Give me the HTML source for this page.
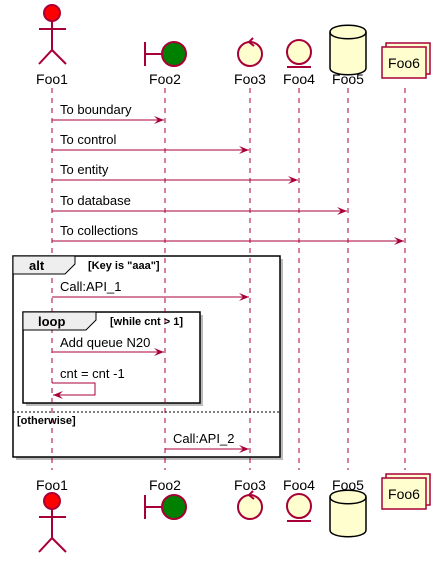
<!DOCTYPE html>
<html><head><meta charset="utf-8"><style>body{margin:0;background:#fff}svg{display:block}</style></head><body>
<svg width="439" height="561" xmlns="http://www.w3.org/2000/svg" font-family="Liberation Sans, sans-serif">
<defs><marker id="a" markerWidth="12" markerHeight="10" refX="10" refY="4" orient="auto" markerUnits="userSpaceOnUse"><path d="M0,0 L10,4 L0,8 L4,4 Z" fill="#A80036"/></marker></defs>
<!-- alt/loop boxes first -->
<rect x="16" y="259" width="267" height="201" fill="#bbb"/>
<rect x="13" y="256" width="267" height="201" fill="#fff" stroke="#000" stroke-width="1.5"/>
<rect x="26" y="315" width="177" height="91" fill="#bbb"/>
<rect x="23" y="312" width="177" height="91" fill="#fff" stroke="#000" stroke-width="1.5"/>
<g stroke="#A80036" stroke-dasharray="5,5" stroke-width="1">
<line x1="52" y1="88" x2="52" y2="470"/><line x1="165" y1="88" x2="165" y2="470"/><line x1="250" y1="88" x2="250" y2="470"/><line x1="299" y1="88" x2="299" y2="470"/><line x1="348" y1="88" x2="348" y2="470"/><line x1="405" y1="88" x2="405" y2="470"/>
</g>
<path d="M13,256 L75,256 L75,264 L65,274 L13,274 Z" fill="#EEE" stroke="#000" stroke-width="1"/>
<text x="29" y="270" font-size="13" font-weight="bold">alt</text>
<text x="88" y="269" font-size="11" font-weight="bold">[Key is "aaa"]</text>
<path d="M23,312 L96,312 L96,320 L86,330 L23,330 Z" fill="#EEE" stroke="#000" stroke-width="1"/>
<text x="38" y="326" font-size="13" font-weight="bold">loop</text>
<text x="110" y="325" font-size="11" font-weight="bold">[while cnt &gt; 1]</text>
<line x1="13" y1="412" x2="280" y2="412" stroke="#000" stroke-dasharray="2,2"/>
<text x="17" y="424" font-size="11" font-weight="bold">[otherwise]</text>
<g font-size="14" fill="#000" text-anchor="middle">
<text x="52" y="84">Foo1</text><text x="165" y="84">Foo2</text><text x="250" y="84">Foo3</text><text x="299" y="84">Foo4</text><text x="348" y="84">Foo5</text>
<text x="52" y="490">Foo1</text><text x="165" y="490">Foo2</text><text x="250" y="490">Foo3</text><text x="299" y="490">Foo4</text><text x="348" y="490">Foo5</text>
</g>
<g stroke="#A80036" stroke-width="2" fill="none">
<g><circle cx="52" cy="13" r="8" fill="#f00"/><line x1="52" y1="21" x2="52" y2="50"/><line x1="39" y1="29" x2="66" y2="29"/><path d="M39,64 L52,50 L66,64"/></g>
<g transform="translate(0,488)"><circle cx="52" cy="13" r="8" fill="#f00"/><line x1="52" y1="21" x2="52" y2="50"/><line x1="39" y1="29" x2="66" y2="29"/><path d="M39,64 L52,50 L66,64"/></g>
<g><line x1="145" y1="42" x2="145" y2="66"/><line x1="145" y1="54" x2="162" y2="54"/><circle cx="174" cy="54" r="12" fill="#008000"/></g>
<g transform="translate(0,453)"><line x1="145" y1="42" x2="145" y2="66"/><line x1="145" y1="54" x2="162" y2="54"/><circle cx="174" cy="54" r="12" fill="#008000"/></g>
<g><circle cx="250" cy="54" r="12" fill="#FEFECE"/><path d="M253,38 L249,42 L254,46"/></g>
<g transform="translate(0,453)"><circle cx="250" cy="54" r="12" fill="#FEFECE"/><path d="M253,38 L249,42 L254,46"/></g>
<g><circle cx="299" cy="52" r="12" fill="#FEFECE"/><line x1="287" y1="67" x2="311" y2="67"/></g>
<g transform="translate(0,454)"><circle cx="299" cy="52" r="12" fill="#FEFECE"/><line x1="287" y1="67" x2="311" y2="67"/></g>
</g>
<g stroke="#000" stroke-width="1.5" fill="#FEFECE">
<path d="M330,32 C330,23 366,23 366,32 L366,68 C366,77 330,77 330,68 Z"/><path d="M330,32 C330,41 366,41 366,32" fill="none"/>
<path d="M330,497 C330,488 366,488 366,497 L366,530 C366,539 330,539 330,530 Z"/><path d="M330,497 C330,506 366,506 366,497" fill="none"/>
</g>
<g stroke="#A80036" stroke-width="1.5" fill="#FEFECE">
<rect x="386" y="43" width="44" height="31"/><rect x="382" y="47" width="44" height="31"/>
<rect x="386" y="474" width="44" height="31"/><rect x="382" y="478" width="44" height="31"/>
</g>
<g font-size="14" text-anchor="middle"><text x="404" y="68">Foo6</text><text x="404" y="499">Foo6</text></g>
<g stroke="#A80036" stroke-width="1" marker-end="url(#a)">
<line x1="52" y1="120" x2="164" y2="120"/><line x1="52" y1="150" x2="249" y2="150"/><line x1="52" y1="180" x2="298" y2="180"/><line x1="52" y1="211" x2="347" y2="211"/><line x1="52" y1="241" x2="404" y2="241"/>
<line x1="52" y1="297" x2="249" y2="297"/><line x1="52" y1="352" x2="164" y2="352"/><line x1="165" y1="449" x2="249" y2="449"/>
<path d="M52,383 L95,383 L95,395 L53,395" fill="none"/>
</g>
<g font-size="13" fill="#000">
<text x="60" y="114">To boundary</text><text x="60" y="144">To control</text><text x="60" y="174">To entity</text><text x="60" y="205">To database</text><text x="60" y="235">To collections</text>
<text x="60" y="291">Call:API_1</text><text x="60" y="347">Add queue N20</text><text x="60" y="378">cnt = cnt  -1</text><text x="173" y="443">Call:API_2</text>
</g>
</svg>
</body></html>
